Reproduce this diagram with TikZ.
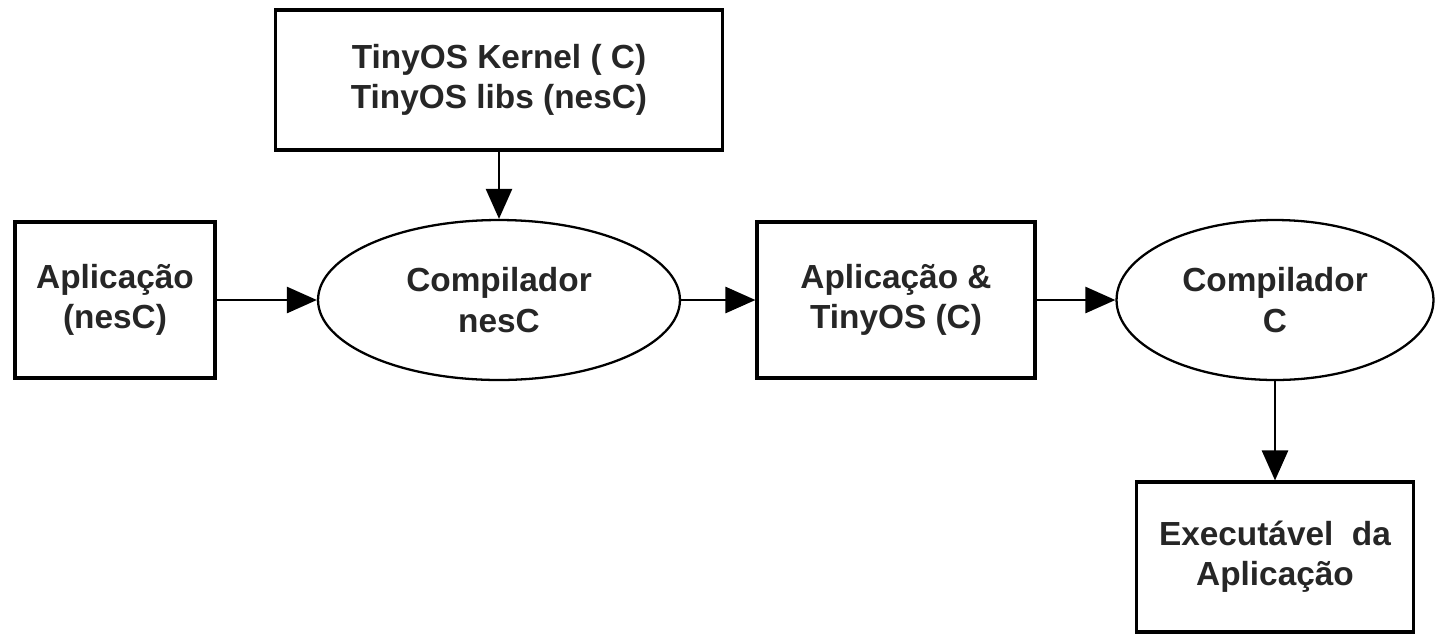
\documentclass[tikz,border=0pt]{standalone}
\usepackage{fontspec}
\setmainfont{Liberation Sans}
\usetikzlibrary{shapes.geometric,arrows.meta}

\begin{document}
\begin{tikzpicture}[x=0.02cm, y=-0.02cm]
		\tikzstyle {step box} = [draw, line width=1.8pt, align=center, inner sep=0pt,
			font=\fontsize{19}{23}\selectfont\bfseries, text=black!85]
		\tikzstyle {compiler} = [step box, ellipse, line width=1.3pt]
		\tikzstyle {flow} = [line width=1.5pt, -{Triangle[length=0.6cm, width=0.52cm]}]

		\useasboundingbox (0,0) rectangle (1437,637);

		\node[step box, minimum width=8.94cm, minimum height=2.8cm] (kernel) at (499, 80)
			{TinyOS Kernel ( C)\\TinyOS libs (nesC)};
		\node[step box, minimum width=4cm, minimum height=3.12cm] (app) at (115, 300)
			{Aplicação\\(nesC)};
		\node[compiler, minimum width=7.24cm, minimum height=3.2cm] (nesc) at (499, 300)
			{Compilador\\nesC};
		\node[step box, minimum width=5.56cm, minimum height=3.12cm] (appos) at (896, 300)
			{Aplicação \&\\TinyOS (C)};
		\node[compiler, minimum width=6.34cm, minimum height=3.2cm] (ccomp) at (1275, 300)
			{Compilador\\C};
		\node[step box, minimum width=5.54cm, minimum height=3.0cm] (exe) at (1275, 557)
			{Executável\ \ da\\Aplicação};

		\draw[flow] (kernel) -- (nesc);
		\draw[flow] (app) -- (nesc);
		\draw[flow] (nesc) -- (appos);
		\draw[flow] (appos) -- (ccomp);
		\draw[flow] (ccomp) -- (exe);
\end{tikzpicture}
\end{document}
